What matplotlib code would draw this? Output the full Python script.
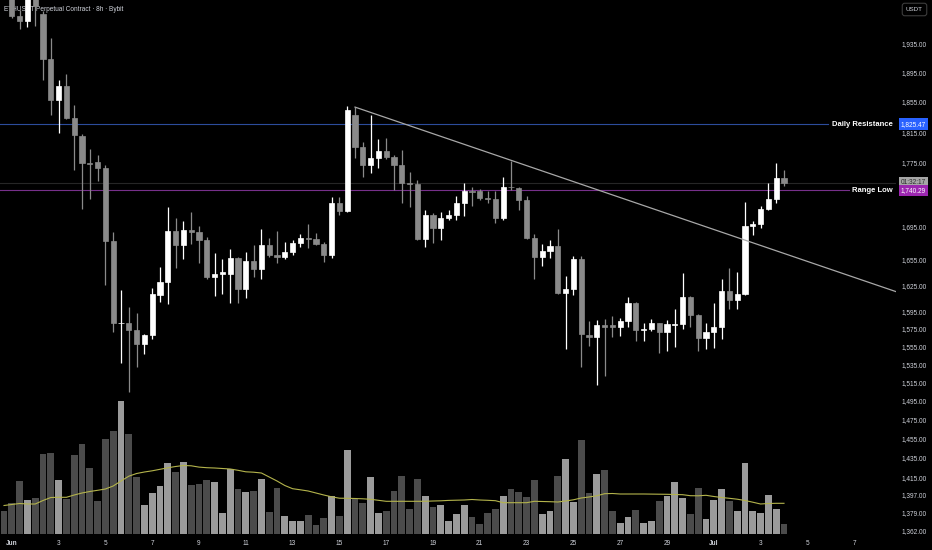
import numpy as np
import pandas as pd
import matplotlib
matplotlib.use('Agg')
import matplotlib.pyplot as plt
import matplotlib.dates as mdates
from matplotlib import transforms
from matplotlib.ticker import NullLocator, NullFormatter

plt.rcParams['font.family'] = ['Liberation Sans', 'DejaVu Sans']

# ─── ETHUSDT perpetual, 8h candles, first bar = 31 May 16:00 ───
start = '2023-05-31 16:00'

opens = [2025,
         2004, 1974, 1966, 2003, 1977, 1913, 1858, 1876, 1834, 1810,
         1775, 1776, 1769, 1678, 1581, 1582, 1574, 1558, 1568, 1614,
         1629, 1690, 1673, 1691, 1689, 1679, 1635, 1638, 1638, 1657,
         1621, 1654, 1644, 1673, 1661, 1658, 1665, 1675, 1682, 1680,
         1674, 1661, 1724, 1714, 1837, 1795, 1772, 1781, 1791, 1783,
         1772, 1749, 1748, 1680, 1709, 1694, 1706, 1710, 1725, 1740,
         1740, 1731, 1729, 1706, 1745, 1743, 1728, 1681, 1658, 1666,
         1672, 1616, 1621, 1656, 1568, 1566, 1579, 1579, 1577, 1584,
         1605, 1573, 1575, 1581, 1571, 1579, 1580, 1611, 1591, 1564,
         1571, 1577, 1618, 1608, 1615, 1696, 1699, 1717, 1729, 1756]
highs = [2040,
         2012, 1982, 2015, 2010, 1980, 1943, 1884, 1892, 1851, 1812,
         1793, 1785, 1772, 1689, 1619, 1600, 1593, 1569, 1622, 1647,
         1720, 1706, 1702, 1713, 1696, 1683, 1663, 1656, 1668, 1658,
         1664, 1673, 1693, 1681, 1690, 1677, 1679, 1686, 1699, 1688,
         1677, 1732, 1732, 1850, 1848, 1802, 1838, 1806, 1807, 1785,
         1792, 1763, 1753, 1716, 1712, 1713, 1716, 1733, 1749, 1745,
         1742, 1739, 1739, 1757, 1777, 1745, 1733, 1686, 1674, 1679,
         1692, 1636, 1660, 1660, 1584, 1585, 1586, 1590, 1587, 1611,
         1606, 1581, 1586, 1582, 1585, 1597, 1640, 1612, 1592, 1582,
         1604, 1632, 1645, 1641, 1726, 1702, 1721, 1750, 1775, 1766]
lows = [2004,
        1971, 1955, 1958, 1960, 1885, 1837, 1814, 1832, 1766, 1717,
        1730, 1752, 1625, 1571, 1537, 1505, 1532, 1546, 1563, 1606,
        1603, 1645, 1656, 1674, 1652, 1633, 1612, 1615, 1605, 1604,
        1610, 1635, 1632, 1658, 1651, 1656, 1661, 1670, 1669, 1673,
        1653, 1657, 1709, 1713, 1781, 1757, 1762, 1769, 1780, 1741,
        1724, 1720, 1679, 1670, 1676, 1679, 1704, 1704, 1708, 1721,
        1728, 1724, 1700, 1704, 1741, 1716, 1680, 1633, 1648, 1657,
        1615, 1552, 1614, 1532, 1555, 1512, 1522, 1566, 1567, 1577,
        1561, 1561, 1572, 1548, 1550, 1554, 1575, 1577, 1550, 1552,
        1553, 1563, 1597, 1597, 1614, 1685, 1694, 1716, 1725, 1746]
closes = [2006,
          1974, 1966, 2003, 1988, 1913, 1858, 1876, 1834, 1811, 1775,
          1774, 1769, 1678, 1581, 1582, 1574, 1558, 1568, 1615, 1629,
          1690, 1673, 1691, 1689, 1679, 1635, 1638, 1641, 1657, 1621,
          1654, 1644, 1673, 1661, 1658, 1665, 1675, 1681, 1680, 1674,
          1661, 1724, 1714, 1844, 1795, 1772, 1781, 1791, 1783, 1772,
          1749, 1748, 1680, 1709, 1694, 1706, 1710, 1725, 1740, 1738,
          1731, 1729, 1706, 1745, 1744, 1728, 1681, 1658, 1666, 1672,
          1616, 1621, 1656, 1569, 1566, 1579, 1577, 1577, 1584, 1605,
          1573, 1575, 1581, 1571, 1580, 1580, 1611, 1591, 1564, 1571,
          1577, 1618, 1608, 1615, 1696, 1699, 1717, 1729, 1756, 1750]

# volume (K ETH) and its moving average as shown in the pane
volume = [23, 31.3, 53.3, 34, 35.7, 80, 80.7, 54, 34.7, 79.3,
          89.7, 66.3, 33.3, 95.3, 103, 133.3, 99.7, 57.3, 29, 40.7,
          48, 70.7, 61.7, 71.7, 49, 50, 54, 52.3, 21.3, 64.7,
          44.7, 42, 43.3, 54.7, 22.3, 46.3, 18, 13, 13, 18.7,
          8.7, 16, 38.3, 18, 84, 34.7, 31.3, 56.7, 21.3, 23,
          43, 58.3, 25.3, 55.3, 38, 27.3, 28.7, 13.3, 20.3, 29,
          16.7, 10, 20.7, 25.3, 38, 45.3, 42, 36.7, 54, 20,
          23, 58, 75.3, 31.7, 93.7, 40.7, 60.3, 64, 23.3, 11.3,
          17.3, 24, 10.7, 12.7, 33.3, 38.3, 52.3, 36.3, 20, 46,
          15, 34, 45.3, 33.3, 23.3, 71.3, 22.7, 21.3, 38.7, 24.7,
          10]
vol_ma = [28.5, 29.5, 30.5, 30, 30, 33.5, 36.5, 36.7, 36.7, 39,
          41, 42.5, 43.7, 45, 48, 53, 57.8, 60.5, 62, 63.2,
          64.7, 66.2, 67.5, 68.5, 68.2, 66.9, 66.3, 66, 65.5, 65,
          63.7, 62.2, 61.8, 61, 57, 53, 48.5, 45.3, 44.2, 43,
          41, 39, 37.2, 35.8, 35.7, 35.5, 35.2, 34.7, 33.7, 32.7,
          32.7, 32.7, 32.7, 32.7, 32.7, 33, 33.2, 33.6, 33.8, 34,
          34.5, 34, 33.7, 33.3, 31.3, 31.3, 31.3, 31.3, 32.7, 32.5,
          32.3, 32, 33, 34.2, 36, 37, 38.2, 40.3, 40.5, 40,
          40, 40, 40, 39.9, 39.8, 39.7, 39.5, 39.3, 38.3, 38.2,
          38.7, 37.5, 36.5, 35.7, 34.8, 33.5, 31.8, 30, 30.5, 30.7,
          30.7]

price_ticks = [1935, 1895, 1855, 1815, 1775, 1695, 1655, 1625, 1595, 1575,
               1555, 1535, 1515, 1495, 1475, 1455, 1435, 1415, 1397, 1379, 1362]
date_ticks = ['2023-06-01', '2023-06-03', '2023-06-05', '2023-06-07', '2023-06-09',
              '2023-06-11', '2023-06-13', '2023-06-15', '2023-06-17', '2023-06-19',
              '2023-06-21', '2023-06-23', '2023-06-25', '2023-06-27', '2023-06-29',
              '2023-07-01', '2023-07-03', '2023-07-05', '2023-07-07']

daily_resistance = 1825.47
range_low = 1740.29
trend_a = ('2023-06-15 16:00', 1848)
trend_b = ('2023-07-04 16:00', 1656.5)

UP, DOWN = '#ffffff', '#8a8a8a'
VUP, VDOWN = '#9b9b9b', '#4b4b4b'
TXT = '#d1d4dc'
FS = 4.7

o, h, l, c = (np.array(a, float) for a in (opens, highs, lows, closes))
times = pd.date_range(start, periods=len(o), freq='8h')
xs = mdates.date2num(times)
step = 1 / 3
x_left = xs[0] - 0.513 * step
x_right = xs[0] + 114.36 * step

W, H = 932, 550
fig = plt.figure(figsize=(W / 100, H / 100), dpi=100)
fig.patch.set_facecolor('black')
rect = [0, 16 / H, 896 / W, 534 / H]

# volume pane (behind)
axv = fig.add_axes(rect)
axv.set_facecolor('black')
up = c >= o
axv.bar(xs, volume, width=0.86 * step, color=np.where(up, VUP, VDOWN), lw=0)
axv.plot(xs, vol_ma, color='#b4b44c', lw=0.8)
axv.set_ylim(0, 534)
axv.set_xlim(x_left, x_right)
axv.axis('off')

# price pane
ax = fig.add_axes(rect)
ax.set_facecolor('none')
ax.set_yscale('log')
ax.set_ylim(1358.2, 1996.4)
ax.set_xlim(x_left, x_right)

cols = np.where(up, UP, DOWN)
ax.vlines(xs, l, h, colors=cols, lw=0.9, zorder=2)
ax.bar(xs, np.abs(c - o), bottom=np.minimum(o, c), width=0.68 * step,
       color=cols, edgecolor=cols, lw=0.5, zorder=3)

# levels
ax.axhline(c[-1], color='#262626', lw=0.8, zorder=1)
ax.axhline(daily_resistance, xmax=0.924, color='#2c4c9c', lw=0.8, zorder=1)
ax.axhline(range_low, xmax=0.947, color='#76308a', lw=0.8, zorder=1)
ax.text(0.9967, daily_resistance, 'Daily Resistance', transform=ax.get_yaxis_transform(),
        ha='right', va='center', fontsize=5.5, fontweight='bold', color='white')
ax.text(0.9967, range_low, 'Range Low', transform=ax.get_yaxis_transform(),
        ha='right', va='center', fontsize=5.5, fontweight='bold', color='white')

# descending trendline from the 15 Jun high
ta = mdates.date2num(pd.Timestamp(trend_a[0]))
tb = mdates.date2num(pd.Timestamp(trend_b[0]))
k = (np.log(trend_b[1]) - np.log(trend_a[1])) / (tb - ta)
tx = np.array([ta, x_right])
ax.plot(tx, trend_a[1] * np.exp(k * (tx - ta)), color='#a8a8a8', lw=0.9, zorder=4)

ax.text(4 / 896, 1 - 9.5 / 534, 'ETHUSDT Perpetual Contract · 8h · Bybit',
        transform=ax.transAxes, ha='left', va='center', fontsize=4.7, color=TXT, zorder=1)

# axes cosmetics
for s in ax.spines.values():
    s.set_visible(False)
ax.yaxis.tick_right()
ax.yaxis.set_minor_locator(NullLocator())
ax.yaxis.set_minor_formatter(NullFormatter())
ax.set_yticks(price_ticks)
ax.set_yticklabels([f'{p:,.2f}' for p in price_ticks])
ax.tick_params(axis='y', length=0, pad=4.3, labelsize=FS, labelcolor=TXT)

dt = pd.to_datetime(date_ticks)
ax.set_xticks(mdates.date2num(dt))
ax.set_xticklabels([d.strftime('%b') if d.day == 1 else str(d.day) for d in dt])
for lab, d in zip(ax.get_xticklabels(), dt):
    if d.day == 1:
        lab.set_fontweight('bold')
ax.tick_params(axis='x', length=0, pad=4, labelsize=FS, labelcolor=TXT)

# price-scale badges
tr = transforms.blended_transform_factory(fig.transFigure, ax.transData)
bx = 913.5 / W
ax.text(bx, c[-1], '01:32:17', transform=tr, ha='center', va='center', fontsize=FS,
        color='#2a2a2a', clip_on=False, zorder=5,
        bbox=dict(boxstyle='square,pad=0.35', fc='#a6a6a6', ec='none'))
ax.text(bx, range_low, f'{range_low:,.2f}', transform=tr, ha='center', va='center',
        fontsize=FS, color='white', clip_on=False, zorder=6,
        bbox=dict(boxstyle='square,pad=0.35', fc='#9c27b0', ec='none'))
ax.text(bx, daily_resistance, f'{daily_resistance:,.2f}', transform=tr, ha='center',
        va='center', fontsize=FS, color='white', clip_on=False, zorder=6,
        bbox=dict(boxstyle='square,pad=0.35', fc='#2962ff', ec='none'))
fig.text(914.5 / W, 1 - 9.5 / H, 'USDT', ha='center', va='center', fontsize=4.5,
         color=TXT, bbox=dict(boxstyle='round,pad=0.6,rounding_size=0.4',
                              fc='black', ec='#3c3c3c', lw=0.8))

fig.savefig('out.png', dpi=100, facecolor='black')
